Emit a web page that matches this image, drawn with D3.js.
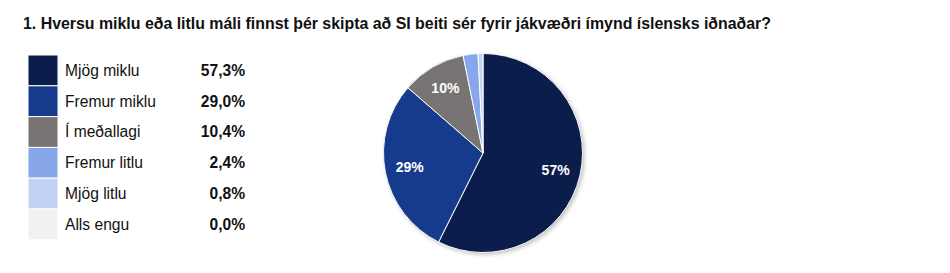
<!DOCTYPE html>
<html>
<head>
<meta charset="utf-8">
<script src="https://cdn.jsdelivr.net/npm/d3@7"></script>
<style>
  body { margin: 0; background: #fff; }
  svg { display: block; font-family: "Liberation Sans", Arial, sans-serif; }
</style>
</head>
<body>
<div id="chart"></div>
<script>
// data
const title = "1. Hversu miklu eða litlu máli finnst þér skipta að SI beiti sér fyrir jákvæðri ímynd íslensks iðnaðar?";
const categories = ["Mjög miklu", "Fremur miklu", "Í meðallagi", "Fremur litlu", "Mjög litlu", "Alls engu"];
const values = [57.3, 29.0, 10.4, 2.4, 0.8, 0.0];
const colors = ["#0b1d4a", "#163a8c", "#787473", "#88a6ea", "#c2d2f4", "#f1f1f1"];

const width = 950;
const height = 273;

const svg = d3.select("#chart").append("svg")
  .attr("width", width)
  .attr("height", height);

// title
svg.append("text")
  .attr("x", 23)
  .attr("y", 29)
  .attr("font-size", 15.9)
  .attr("font-weight", "bold")
  .attr("fill", "#111")
  .text(title);

// legend table
const rowH = 30.8;
const legendTop = 55;
const y = d3.scaleBand()
  .domain(categories)
  .range([legendTop, legendTop + rowH * categories.length]);

const fmt = v => v.toFixed(1).replace(".", ",") + "%";

const rows = svg.append("g")
  .selectAll("g")
  .data(categories)
  .enter().append("g");

rows.append("rect")
  .attr("x", 28)
  .attr("y", d => y(d))
  .attr("width", 30)
  .attr("height", y.bandwidth())
  .attr("fill", (d, i) => colors[i])
  .attr("stroke", "#fff")
  .attr("stroke-width", 1);

rows.append("text")
  .attr("x", 65)
  .attr("y", d => y(d) + y.bandwidth() / 2)
  .attr("dy", "0.35em")
  .attr("font-size", 15.6)
  .attr("fill", "#111")
  .text(d => d);

rows.append("text")
  .attr("x", 245)
  .attr("y", d => y(d) + y.bandwidth() / 2)
  .attr("dy", "0.35em")
  .attr("text-anchor", "end")
  .attr("font-size", 15.6)
  .attr("font-weight", "bold")
  .attr("fill", "#111")
  .text((d, i) => fmt(values[i]));

// pie
const cx = 483, cy = 153, r = 99.5;
const pie = d3.pie().sort(null).value(d => d.v);
const arcs = pie(categories.map((c, i) => ({ c: c, v: values[i], color: colors[i] })));
const arc = d3.arc().innerRadius(0).outerRadius(r);
const labelArc = d3.arc().innerRadius(r * 0.75).outerRadius(r * 0.75);

const defs = svg.append("defs");
const f = defs.append("filter").attr("id", "shadow").attr("x", "-20%").attr("y", "-20%").attr("width", "140%").attr("height", "140%");
f.append("feDropShadow").attr("dx", 2).attr("dy", 2).attr("stdDeviation", 2).attr("flood-color", "#000").attr("flood-opacity", 0.25);

const pg = svg.append("g").attr("transform", `translate(${cx},${cy})`);

pg.append("circle").attr("r", r).attr("fill", "#0b1d4a").attr("filter", "url(#shadow)");

pg.selectAll("path")
  .data(arcs.filter(d => d.data.v > 0))
  .enter().append("path")
  .attr("d", arc)
  .attr("fill", d => d.data.color)
  .attr("stroke", "#fff")
  .attr("stroke-width", 1);

pg.selectAll(".lbl")
  .data(arcs.filter(d => d.data.v >= 5))
  .enter().append("text")
  .attr("class", "lbl")
  .attr("transform", d => `translate(${labelArc.centroid(d)})`)
  .attr("text-anchor", "middle")
  .attr("dy", "0.35em")
  .attr("font-size", 14)
  .attr("font-weight", "bold")
  .attr("fill", "#fff")
  .text(d => Math.round(d.data.v) + "%");
</script>
</body>
</html>
